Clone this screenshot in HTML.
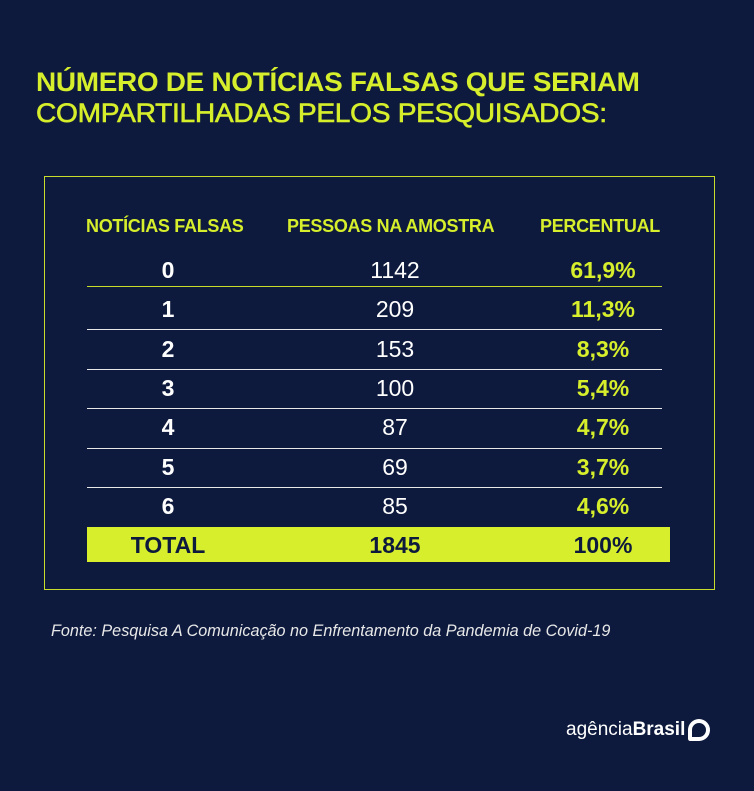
<!DOCTYPE html><html><head><style>
body{margin:0;width:754px;height:791px;background:#0d1a3d;position:relative;overflow:hidden;font-family:"Liberation Sans",sans-serif}
.a{position:absolute}
.t{color:#d6ee2b;font-weight:bold;font-size:27px;left:36px;letter-spacing:-0.3px;transform-origin:left;white-space:nowrap}
.h{color:#d6ee2b;font-weight:bold;font-size:18px;top:216px;transform-origin:left;white-space:nowrap;letter-spacing:-0.3px}
.c{position:absolute;text-align:center;width:200px;font-size:23px;line-height:24px}
.l{position:absolute;left:87px;width:575px;height:1px;background:#e8e8e8}
</style></head><body>
<div class="a t" style="top:67px;transform:scaleX(1.035)">NÚMERO DE NOTÍCIAS FALSAS QUE SERIAM</div>
<div class="a t" style="top:98px;font-weight:normal;-webkit-text-stroke:0.6px #d6ee2b;transform:scaleX(1.043)">COMPARTILHADAS PELOS PESQUISADOS:</div>
<div class="a" style="left:44px;top:176px;width:669px;height:412px;border:1.5px solid #c8dc2c"></div>
<div class="a h" style="left:86px">NOTÍCIAS FALSAS</div>
<div class="a h" style="left:287px">PESSOAS NA AMOSTRA</div>
<div class="a h" style="left:540px">PERCENTUAL</div>
<div class="l" style="top:286px;background:#c8dc2c"></div>
<div class="l" style="top:329px"></div><div class="l" style="top:369px"></div><div class="l" style="top:408px"></div><div class="l" style="top:448px"></div><div class="l" style="top:487px"></div>
<div class="a" style="left:87px;top:527px;width:583px;height:35px;background:#d6ee2b"></div>
<div id="rows"></div>
<script>
var d=[["0","1142","61,9%"],["1","209","11,3%"],["2","153","8,3%"],["3","100","5,4%"],["4","87","4,7%"],["5","69","3,7%"],["6","85","4,6%"]];
var h="";d.forEach(function(r,i){var y=258+i*39.3;
h+='<div class="c" style="left:68px;top:'+y+'px;color:#fff;font-weight:bold">'+r[0]+'</div>';
h+='<div class="c" style="left:295px;top:'+y+'px;color:#fff">'+r[1]+'</div>';
h+='<div class="c" style="left:503px;top:'+y+'px;color:#d6ee2b;font-weight:bold">'+r[2]+'</div>';});
h+='<div class="c" style="left:68px;top:533px;color:#0d1a3d;font-weight:bold">TOTAL</div>';
h+='<div class="c" style="left:295px;top:533px;color:#0d1a3d;font-weight:bold">1845</div>';
h+='<div class="c" style="left:503px;top:533px;color:#0d1a3d;font-weight:bold">100%</div>';
document.getElementById("rows").innerHTML=h;
</script>
<div class="a" style="left:51px;top:622px;color:#e8e8e8;font-style:italic;font-size:16.2px;white-space:nowrap">Fonte: Pesquisa A Comunicação no Enfrentamento da Pandemia de Covid-19</div>
<div class="a" style="left:566px;top:719px;color:#fff;font-size:19px">agência<b>Brasil</b></div>
<div class="a" style="left:688px;top:719px;width:14px;height:14px;border:4px solid #fff;border-radius:50% 50% 50% 10%"></div>
</body></html>
